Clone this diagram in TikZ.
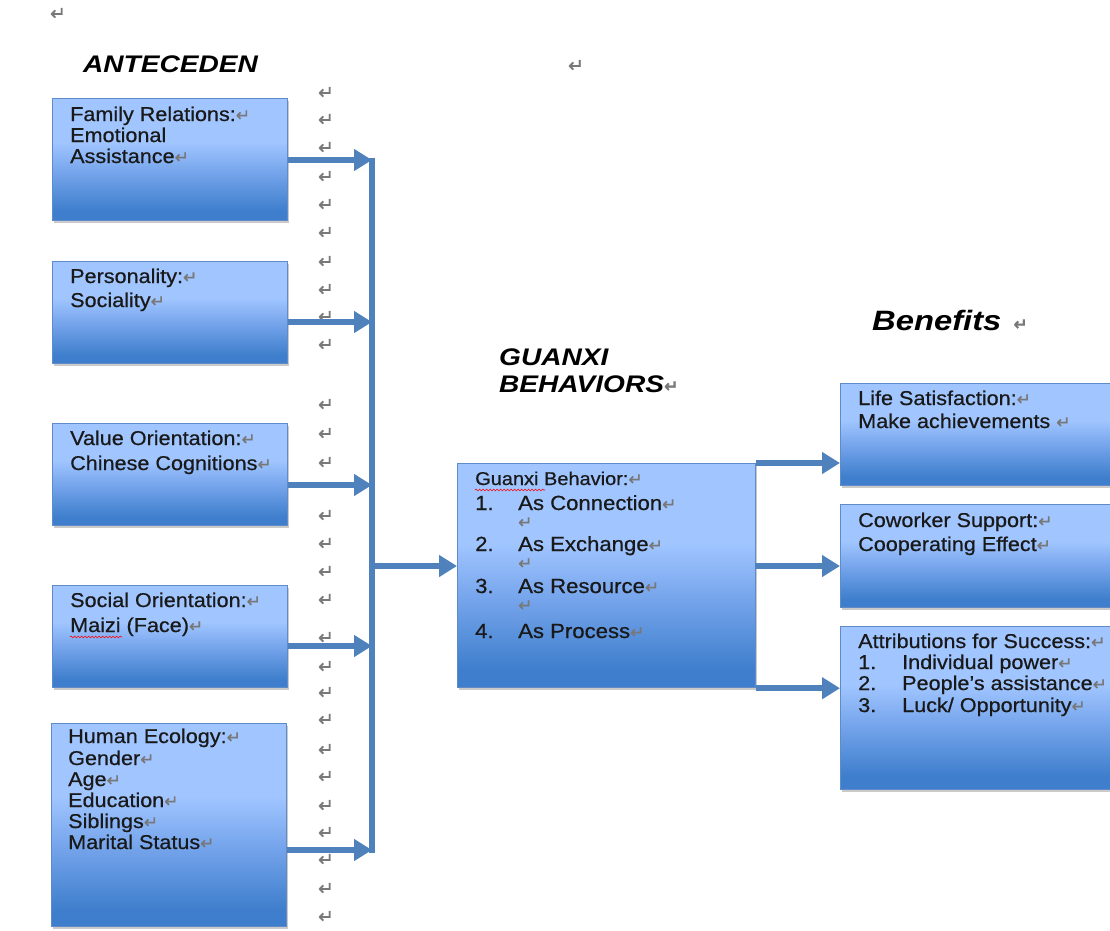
\documentclass[tikz,border=0pt]{standalone}
\usepackage{fontspec}
\setmainfont{Liberation Sans}
\newfontfamily\boxfont[FakeStretch=1.08,FakeBold=0.6]{Liberation Sans}
\newfontfamily\headfont[FakeStretch=1.17]{Liberation Sans}
\newfontfamily\pmfont[FakeBold=0.8]{DejaVu Sans}
\usetikzlibrary{arrows.meta,shadows,calc,decorations.pathmorphing}
\definecolor{arrblue}{RGB}{79,129,189}
\definecolor{boxtop}{RGB}{160,197,255}
\definecolor{boxmid}{RGB}{118,165,236}
\definecolor{boxbot}{RGB}{62,126,204}
\definecolor{boxline}{RGB}{95,140,200}
\definecolor{pmgray}{RGB}{120,120,120}
\pgfdeclareverticalshading{boxshade}{100bp}{color(0bp)=(boxbot); color(29bp)=(boxbot); color(45bp)=(boxmid); color(57bp)=(boxtop); color(100bp)=(boxtop)}
\newcommand\pmk{{\pmfont\fontsize{17}{17}\selectfont\color{pmgray}↵}}
\tikzset{
  bluebox/.style={draw=boxline, line width=1.2pt, shading=boxshade,
    drop shadow={shadow xshift=1.5pt, shadow yshift=-2pt, opacity=0.35, fill=black!60},
    inner sep=0pt, anchor=north west},
  btext/.style={font=\boxfont\fontsize{20}{22}\selectfont, anchor=base west, inner sep=0pt, text=black!90},
  gtext/.style={font=\boxfont\fontsize{20.5}{22}\selectfont, anchor=base west, inner sep=0pt, text=black!90},
  ghead/.style={font=\boxfont\fontsize{18.5}{22}\selectfont, anchor=base west, inner sep=0pt, text=black!90},
  headtext/.style={font=\headfont\fontsize{24}{26}\selectfont\bfseries\itshape, anchor=base west, inner sep=0pt},
  pmcol/.style={font=\pmfont\fontsize{19}{19}\selectfont, text=pmgray, inner sep=0pt},
  arr/.style={draw=arrblue, line width=5.5pt, -{Triangle[length=18pt,width=21pt]}},
  busline/.style={draw=arrblue, line width=5.5pt},
  spell/.style={draw=red, line width=0.6pt, decorate, decoration={snake, amplitude=0.9pt, segment length=3.5pt}}
}
\begin{document}
\begin{tikzpicture}[x=1pt,y=-1pt]
\useasboundingbox (0,0) rectangle (1110,930);
% paragraph marks column
\foreach \yy [count=\i] in {93,120,148,177,205,233,262,290,317,345,405,434,463,516,544,572,600,638,667,693,720,750,777,806,833,860,889,917}
  \node[pmcol] (pm\i) at (326,\yy) {↵};
\node[pmcol] (pmtl) at (58,14) {↵};
\node[pmcol] (pmtm) at (576,66) {↵};

% headings
\node[headtext] (hant) at (83,72) {ANTECEDEN};
\node[headtext] (hgu1) at (499,365) {GUANXI};
\node[headtext] (hgu2) at (499,392) {BEHAVIORS\pmk};
\node[headtext, font=\headfont\fontsize{28}{30}\selectfont\bfseries\itshape] (hben) at (872,330) {Benefits\hspace{12pt}\pmk};

% antecedent boxes
\node[bluebox, minimum width=235pt, minimum height=122pt] (fam) at (52,98) {};
\node[bluebox, minimum width=235pt, minimum height=102pt] (pers) at (52,261) {};
\node[bluebox, minimum width=235pt, minimum height=102pt] (val) at (52,423) {};
\node[bluebox, minimum width=235pt, minimum height=102pt] (soc) at (52,585) {};
\node[bluebox, minimum width=235pt, minimum height=203pt] (hum) at (51,723) {};
% guanxi box
\node[bluebox, minimum width=298pt, minimum height=224pt] (gb) at (457,463) {};
% benefit boxes
\node[bluebox, minimum width=300pt, minimum height=102pt] (life) at (840,383) {};
\node[bluebox, minimum width=300pt, minimum height=103pt] (cow) at (840,504) {};
\node[bluebox, minimum width=300pt, minimum height=163pt] (attr) at (840,626) {};

% texts
\node[btext] (fam1) at (70,121) {Family Relations:\pmk};
\node[btext] (fam2) at (70,142) {Emotional};
\node[btext] (fam3) at (70,163) {Assistance\pmk};
\node[btext] (pers1) at (70,283) {Personality:\pmk};
\node[btext] (pers2) at (70,307) {Sociality\pmk};
\node[btext] (val1) at (70,445) {Value Orientation:\pmk};
\node[btext] (val2) at (70,470) {Chinese Cognitions\pmk};
\node[btext] (soc1) at (70,607) {Social Orientation:\pmk};
\node[btext] (soc2) at (70,632) {Maizi (Face)\pmk};
\node[btext] (hum1) at (68,743) {Human Ecology:\pmk};
\node[btext] (hum2) at (68,765) {Gender\pmk};
\node[btext] (hum3) at (68,786) {Age\pmk};
\node[btext] (hum4) at (68,807) {Education\pmk};
\node[btext] (hum5) at (68,828) {Siblings\pmk};
\node[btext] (hum6) at (68,849) {Marital Status\pmk};

\node[ghead] (g0) at (475,485) {Guanxi Behavior:\pmk};
\node[gtext] (g1n) at (475,510) {1.};
\node[gtext] (g1) at (518,510) {As Connection\pmk};
\node[gtext] (g1p) at (518,528) {\pmk};
\node[gtext] (g2n) at (475,551) {2.};
\node[gtext] (g2) at (518,551) {As Exchange\pmk};
\node[gtext] (g2p) at (518,569) {\pmk};
\node[gtext] (g3n) at (475,593) {3.};
\node[gtext] (g3) at (518,593) {As Resource\pmk};
\node[gtext] (g3p) at (518,611) {\pmk};
\node[gtext] (g4n) at (475,638) {4.};
\node[gtext] (g4) at (518,638) {As Process\pmk};

\node[btext] (life1) at (858,405) {Life Satisfaction:\pmk};
\node[btext] (life2) at (858,428) {Make achievements \pmk};
\node[btext] (cow1) at (858,527) {Coworker Support:\pmk};
\node[btext] (cow2) at (858,551) {Cooperating Effect\pmk};
\node[btext] (attr0) at (858,648) {Attributions for Success:\pmk};
\node[btext] (attr1n) at (858,669) {1.};
\node[btext] (attr1) at (902,669) {Individual power\pmk};
\node[btext] (attr2n) at (858,690) {2.};
\node[btext] (attr2) at (902,690) {People’s assistance\pmk};
\node[btext] (attr3n) at (858,712) {3.};
\node[btext] (attr3) at (902,712) {Luck/ Opportunity\pmk};

% spelling underlines
\draw[spell] (70,637) -- (122,637);
\draw[spell] (475,490) -- (545,490);

% connectors
\coordinate (b1) at (372,160);
\coordinate (b2) at (372,322);
\coordinate (b3) at (372,485);
\coordinate (b4) at (372,646);
\coordinate (b5) at (372,850);
\coordinate (btop) at (372,157.5);
\coordinate (bbot) at (372,852.5);
\coordinate (bg) at (372,566);
\coordinate (r2) at (755,566);
\draw[busline] (btop) -- (bbot);
\draw[arr] (fam.east |- b1) -- (b1);
\draw[arr] (pers.east |- b2) -- (b2);
\draw[arr] (val.east |- b3) -- (b3);
\draw[arr] (soc.east |- b4) -- (b4);
\draw[arr] (hum.east |- b5) -- (b5);
\draw[arr] (bg) -- (bg -| gb.west);
\draw[arr] (gb.north east) -- (gb.north east -| life.west);
\draw[arr] (r2) -- (r2 -| cow.west);
\draw[arr] (gb.south east) -- (gb.south east -| attr.west);
\end{tikzpicture}
\end{document}
